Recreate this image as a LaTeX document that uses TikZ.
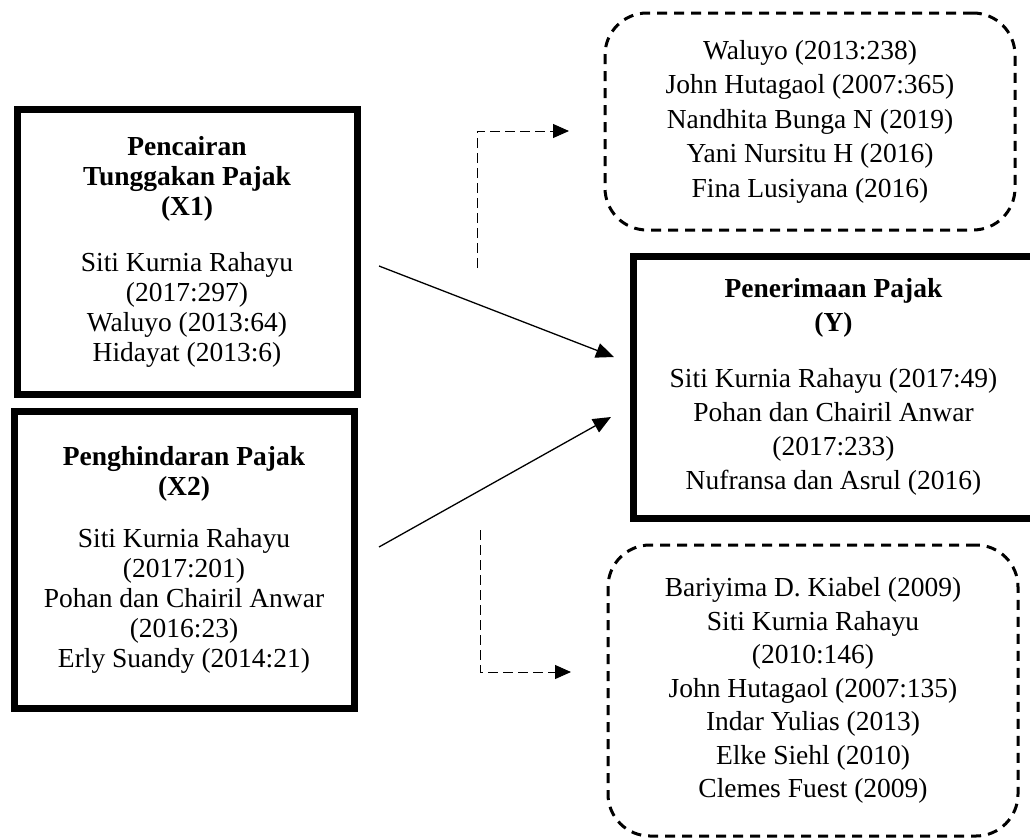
\documentclass[tikz,border=0pt]{standalone}
\usepackage{fontspec}
\setmainfont{Liberation Serif}
\usetikzlibrary{arrows.meta}
\begin{document}
\begin{tikzpicture}[x=1pt,y=-1pt,
  solidbox/.style={draw, line width=7pt, align=center, inner sep=0pt},
  dashbox/.style={draw, line width=3pt, dash pattern=on 10pt off 7pt, rounded corners=42pt, align=center, inner sep=0pt},
  xfont/.style={font=\fontsize{27.5}{30}\selectfont},
  yfont/.style={font=\fontsize{27.5}{34}\selectfont},
  rfont/.style={font=\fontsize{27.5}{34.5}\selectfont},
  mainarrow/.style={line width=1.3pt, -{Triangle[length=18pt,width=15pt]}},
  modarrow/.style={line width=1pt, dash pattern=on 10pt off 5pt, -{Triangle[length=16pt,width=14pt]}}]
\useasboundingbox (0,0) rectangle (1030,838);

\node[solidbox, xfont, minimum width=340pt, minimum height=285pt] (x1) at (187,251.5)
  {\textbf{Pencairan}\\\textbf{Tunggakan Pajak}\\\textbf{(X1)}\\[26pt]
   Siti Kurnia Rahayu\\(2017:297)\\Waluyo (2013:64)\\Hidayat (2013:6)};

\node[solidbox, xfont, minimum width=340pt, minimum height=297pt] (x2) at (184,559.5)
  {\textbf{Penghindaran Pajak}\\\textbf{(X2)}\\[22pt]
   Siti Kurnia Rahayu\\(2017:201)\\Pohan dan Chairil Anwar\\(2016:23)\\Erly Suandy (2014:21)};

\node[solidbox, yfont, minimum width=401pt, minimum height=262pt] (y) at (833.5,387)
  {\textbf{Penerimaan Pajak}\\\textbf{(Y)}\\[22pt]
   Siti Kurnia Rahayu (2017:49)\\Pohan dan Chairil Anwar\\(2017:233)\\Nufransa dan Asrul (2016)};

\node[dashbox, rfont, minimum width=410pt, minimum height=217pt] (r1) at (810,121.5)
  {Waluyo (2013:238)\\John Hutagaol (2007:365)\\Nandhita Bunga N (2019)\\Yani Nursitu H (2016)\\Fina Lusiyana (2016)};

\node[dashbox, rfont, font=\fontsize{27.5}{33.5}\selectfont, minimum width=410pt, minimum height=291pt] (r2) at (813,690.5)
  {Bariyima D. Kiabel (2009)\\Siti Kurnia Rahayu\\(2010:146)\\John Hutagaol (2007:135)\\Indar Yulias (2013)\\Elke Siehl (2010)\\Clemes Fuest (2009)};

\coordinate (a1s) at (379,266);
\coordinate (a1e) at (614,357);
\coordinate (a2s) at (379,547);
\coordinate (a2e) at (611,417);
\draw[mainarrow] (a1s) -- (a1e);
\draw[mainarrow] (a2s) -- (a2e);

\coordinate (m1s) at (477,268);
\coordinate (m1e) at (569,131);
\coordinate (m2s) at (480,530);
\coordinate (m2e) at (571,672);
\draw[modarrow] (m1s) |- (m1e);
\draw[modarrow] (m2s) |- (m2e);
\end{tikzpicture}
\end{document}
